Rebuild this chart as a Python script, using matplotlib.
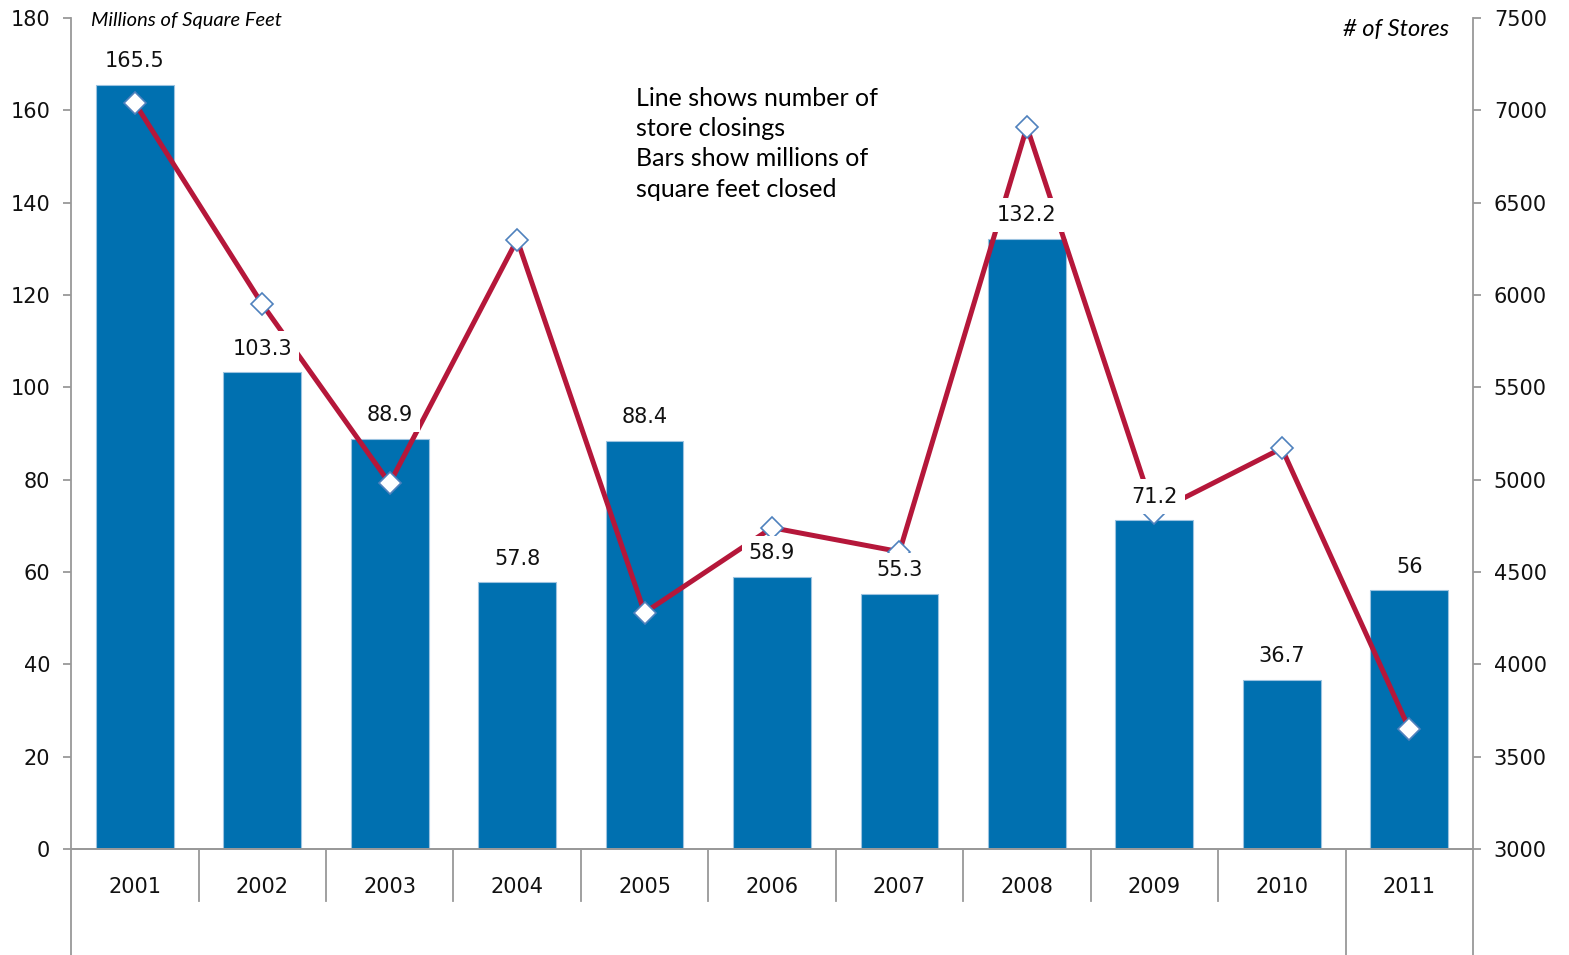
import matplotlib
matplotlib.use("Agg")
import matplotlib.pyplot as plt
from matplotlib.lines import Line2D

# data
years = ["2001", "2002", "2003", "2004", "2005", "2006", "2007", "2008", "2009", "2010", "2011"]
sq_feet = [165.5, 103.3, 88.9, 57.8, 88.4, 58.9, 55.3, 132.2, 71.2, 36.7, 56]
stores = [7040, 5950, 4980, 6300, 4280, 4740, 4610, 6910, 4820, 5170, 3650]

BAR_COLOR = "#0070b0"
LINE_COLOR = "#b5173a"
AXIS_COLOR = "#999999"

plt.rcParams["font.family"] = ["DejaVu Sans"]

fig = plt.figure(figsize=(15.69, 9.55), dpi=100)
ax = fig.add_axes([0.0453, 0.111, 0.8935, 0.8701])
ax2 = ax.twinx()

x = list(range(len(years)))

# bars (left axis)
ax.bar(x, sq_feet, width=0.61, color=BAR_COLOR, edgecolor="#9cc3e0", linewidth=0.8, zorder=2)
ax.set_xlim(-0.5, len(years) - 0.5)
ax.set_ylim(0, 180)
ax.set_yticks(range(0, 181, 20))

# line (right axis)
ax2.plot(x, stores, color=LINE_COLOR, linewidth=3.6, marker="D", markersize=11,
         markerfacecolor="white", markeredgecolor="#4f81bd", markeredgewidth=1.2, zorder=3)
ax2.set_ylim(3000, 7500)
ax2.set_yticks(range(3000, 7501, 500))

# bar labels, drawn on top of the line
for xi, v in zip(x, sq_feet):
    ax2.annotate(f"{v:g}", xy=(xi, v), xycoords=ax.transData, xytext=(0, 17),
                 textcoords="offset points", ha="center", va="center", fontsize=15,
                 color="#111111", zorder=5,
                 bbox=dict(boxstyle="square,pad=0.35", fc="white", ec="none"))

# axes styling
for a in (ax, ax2):
    a.spines["top"].set_visible(False)
    for s in ("left", "right", "bottom"):
        a.spines[s].set_color(AXIS_COLOR)
        a.spines[s].set_linewidth(1.3)
    a.tick_params(axis="y", colors=AXIS_COLOR, labelcolor="#111111", labelsize=15,
                  length=6, width=1.3, pad=9)
ax.tick_params(axis="x", length=0)
ax.set_xticks([])
ax2.spines["left"].set_visible(False)
ax.spines["right"].set_visible(False)

# category labels and separators below the axis
for xi, yr in zip(x, years):
    ax.text(xi, -0.046, yr, transform=ax.get_xaxis_transform(), ha="center", va="center",
            fontsize=15, color="#111111")
for b in range(1, len(years)):
    ytop = -0.128 if b == len(years) - 1 else -0.062
    ax.add_line(Line2D([b - 0.5, b - 0.5], [0, ytop], transform=ax.get_xaxis_transform(),
                       color=AXIS_COLOR, linewidth=1.3, clip_on=False))
for xe in (-0.5, len(years) - 0.5):
    ax.add_line(Line2D([xe, xe], [0, -0.128], transform=ax.get_xaxis_transform(),
                       color=AXIS_COLOR, linewidth=1.3, clip_on=False))

# titles and note
ax.text(0.014, 0.997, "Millions of Square Feet", transform=ax.transAxes, ha="left", va="center",
        fontsize=14.5, style="italic", family=["Lato", "DejaVu Sans"])
ax.text(0.983, 0.986, "# of Stores", transform=ax.transAxes, ha="right", va="center",
        fontsize=17, style="italic", family=["Lato", "DejaVu Sans"])
ax.text(0.403, 0.917, "Line shows number of\nstore closings\nBars show millions of\nsquare feet closed",
        transform=ax.transAxes, ha="left", va="top", fontsize=18, linespacing=1.38,
        family=["Lato", "DejaVu Sans"], zorder=6)

fig.savefig("out.png", dpi=100)
